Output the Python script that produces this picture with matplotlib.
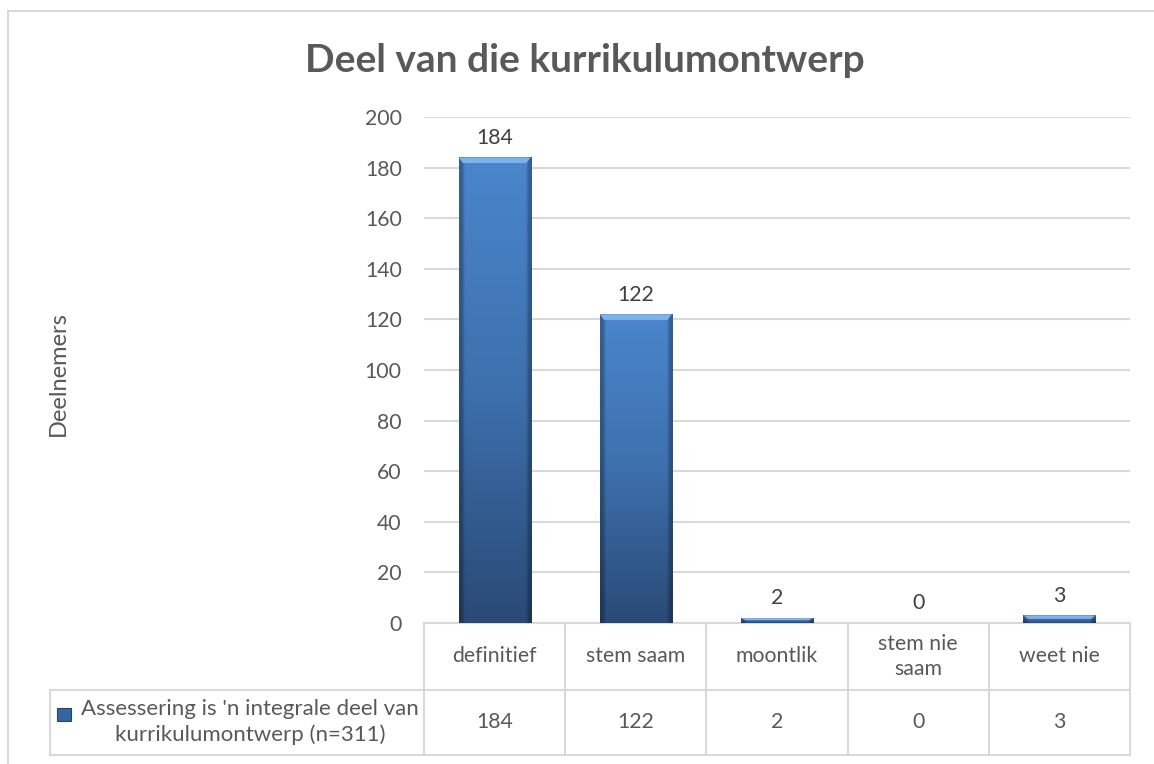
import matplotlib
matplotlib.use("Agg")
import matplotlib.pyplot as plt
import numpy as np
from matplotlib.colors import LinearSegmentedColormap
from matplotlib.patches import Rectangle, Polygon

# data
categories = ["definitief", "stem saam", "moontlik", "stem nie\nsaam", "weet nie"]
values = [184, 122, 2, 0, 3]
series_name = "Assessering is 'n integrale deel van\nkurrikulumontwerp (n=311)"
title = "Deel van die kurrikulumontwerp"
y_label = "Deelnemers"
y_ticks = list(range(0, 201, 20))

plt.rcParams["font.family"] = ["Lato", "DejaVu Sans"]
txt = "#595959"
grid_c = "#d9d9d9"
fs = 15.3

W, H = 1154, 764
fig = plt.figure(figsize=(W / 100, H / 100), dpi=100)

# outer chart border
fig.patches.append(Rectangle((8 / W, -0.1), 1.2, 1 - 11 / H + 0.1, transform=fig.transFigure,
                             fill=False, edgecolor=grid_c, lw=1.5))

ax = fig.add_axes([424 / W, 1 - 623 / H, 706 / W, 506 / H])
x = np.arange(len(categories))
bars = ax.bar(x, values, width=0.51, color="#3a6ba5", zorder=3)

# gradient / bevel look on each bar
cmap = LinearSegmentedColormap.from_list("barg", ["#2a4a76", "#3d70ad", "#4a86cc"])
for b in bars:
    x0, w, h = b.get_x(), b.get_width(), b.get_height()
    if h <= 0:
        continue
    grad = np.linspace(0, 1, 100).reshape(-1, 1)
    rgb = cmap(grad)[:, :, :3] * np.ones((1, 40, 1))
    edge = np.ones(40)
    edge[:2] = 0.72
    edge[-2:] = 0.72
    edge[2:3] = 0.86
    edge[-3:-2] = 0.86
    rgb = rgb * edge.reshape(1, -1, 1)
    im = ax.imshow(rgb, extent=[x0, x0 + w, 0, h], origin="lower", aspect="auto", zorder=3.1)
    im.set_clip_path(b)
    dy = min(2.2, h * 0.45)
    dx = w * 0.06
    ax.add_patch(Polygon([(x0, h), (x0 + w, h), (x0 + w - dx, h - dy), (x0 + dx, h - dy)],
                         closed=True, facecolor="#7fb2ea", edgecolor="none", zorder=3.2))

ax.set_xlim(-0.5, len(categories) - 0.5)
ax.set_ylim(0, 200)
ax.set_yticks(y_ticks)
ax.yaxis.grid(True, color=grid_c, lw=1.5, zorder=0)
ax.set_axisbelow(True)
for s in ax.spines.values():
    s.set_visible(False)
ax.tick_params(axis="y", length=0, pad=16, labelsize=fs, labelcolor=txt)
ax.set_xticks([])

for b, v in zip(bars, values):
    ax.annotate(str(v), (b.get_x() + b.get_width() / 2, v), xytext=(0, 7),
                textcoords="offset points", ha="center", va="bottom",
                fontsize=fs, color="#404040")

# data table under the axis (x in data units, y in axes units)
tr = ax.get_xaxis_transform()
row1 = -67 / 506
row2 = -132 / 506
left_a = -374 / 706
n = len(categories)
line_kw = dict(color=grid_c, lw=1.5, clip_on=False, zorder=1)
for i in range(n + 1):
    ax.plot([i - 0.5, i - 0.5], [0, row2], transform=tr, **line_kw)
ax.plot([-0.5, n - 0.5], [0, 0], transform=tr, **line_kw)
ax.plot([left_a, 1], [row1, row1], transform=ax.transAxes, **line_kw)
ax.plot([left_a, 1], [row2, row2], transform=ax.transAxes, **line_kw)
ax.plot([left_a, left_a], [row1, row2], transform=ax.transAxes, **line_kw)
for i, (c, v) in enumerate(zip(categories, values)):
    ax.text(i, row1 / 2, c, transform=tr, ha="center", va="center", fontsize=fs,
            color=txt, linespacing=1.3)
    ax.text(i, (row1 + row2) / 2, str(v), transform=tr, ha="center", va="center",
            fontsize=fs, color=txt)

# series label with legend key
fig.text(250 / W, 1 - 722 / H, series_name, ha="center", va="center", fontsize=16,
         color=txt, multialignment="center", linespacing=1.3)
fig.patches.append(Rectangle((57 / W, 1 - 721 / H), 14 / W, 13 / H, transform=fig.transFigure,
                             facecolor="#3465a0", edgecolor="#24446e", lw=0.8))

fig.text(585 / W, 1 - 72 / H, title, ha="center", va="baseline", fontsize=28,
         fontweight="bold", color=txt)
fig.text(58 / W, 1 - 374 / H, y_label, ha="center", va="center", rotation=90,
         fontsize=17, color=txt)

fig.savefig("out.png", dpi=100)
